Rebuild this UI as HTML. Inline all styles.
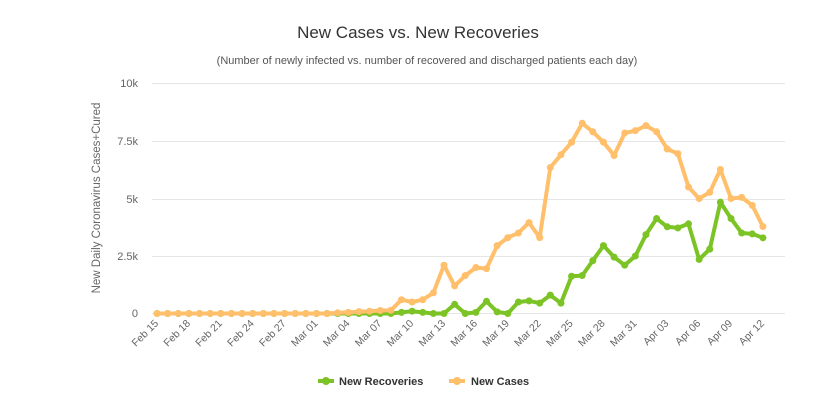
<!DOCTYPE html>
<html><head><meta charset="utf-8"><style>body{margin:0;background:#fff}svg{display:block}text{font-family:"Liberation Sans",sans-serif}</style></head><body>
<svg width="837" height="416" viewBox="0 0 837 416">
<text x="418" y="38" text-anchor="middle" font-size="17" fill="#333">New Cases vs. New Recoveries</text>
<text x="427" y="64" text-anchor="middle" font-size="11" fill="#555">(Number of newly infected vs. number of recovered and discharged patients each day)</text>
<g stroke="#e6e6e6" stroke-width="1">
<line x1="152" x2="785" y1="83.5" y2="83.5"/><line x1="152" x2="785" y1="141.5" y2="141.5"/><line x1="152" x2="785" y1="199.5" y2="199.5"/><line x1="152" x2="785" y1="256.5" y2="256.5"/><line x1="152" x2="785" y1="313.5" y2="313.5"/>
</g>
<g font-size="11" fill="#666" text-anchor="end">
<text x="138" y="87">10k</text><text x="138" y="145">7.5k</text><text x="138" y="203">5k</text><text x="138" y="260">2.5k</text><text x="138" y="317">0</text>
</g>
<text transform="translate(100,198) rotate(-90)" text-anchor="middle" font-size="11.5" fill="#666">New Daily Coronavirus Cases+Cured</text>
<g id="xl" font-size="10.5" fill="#666" text-anchor="end"></g>
<g id="lines"></g>
<g font-size="11" font-weight="bold" fill="#333">
<line x1="318" x2="334" y1="381" y2="381" stroke="#7cc426" stroke-width="4"/><circle cx="326" cy="381" r="4" fill="#7cc426"/>
<text x="339" y="385">New Recoveries</text>
<line x1="449" x2="465" y1="381" y2="381" stroke="#ffbf6b" stroke-width="4"/><circle cx="457" cy="381" r="4" fill="#ffbf6b"/>
<text x="471" y="385">New Cases</text>
</g>
</svg>
<script>
var cases=[0,0,0,0,0,0,0,0,0,0,0,0,0,0,0,0,0,0.03,0.05,0.08,0.1,0.13,0.14,0.6,0.5,0.6,0.9,2.1,1.2,1.65,2.0,1.95,2.95,3.3,3.5,3.95,3.3,6.35,6.9,7.45,8.27,7.9,7.45,6.87,7.85,7.95,8.17,7.9,7.15,6.95,5.5,5.0,5.27,6.26,5.0,5.05,4.7,3.78];
var rec=[0,0,0,0,0,0,0,0,0,0,0,0,0,0,0,0,0,0,0,0,0,0,0,0.05,0.1,0.05,0,0,0.4,0,0.05,0.53,0.07,0,0.5,0.55,0.45,0.8,0.45,1.62,1.65,2.3,2.95,2.45,2.1,2.5,3.43,4.13,3.77,3.72,3.9,2.35,2.8,4.84,4.13,3.5,3.46,3.29];
function X(i){return 157+i*10.63}function Y(v){return 313.5-v*23}
var ns="http://www.w3.org/2000/svg",g=document.getElementById('lines');
function draw(d,c){var p=d.map(function(v,i){return X(i).toFixed(1)+','+Y(v).toFixed(1)}).join(' ');
var pl=document.createElementNS(ns,'polyline');pl.setAttribute('points',p);pl.setAttribute('fill','none');pl.setAttribute('stroke',c);pl.setAttribute('stroke-width','4');pl.setAttribute('stroke-linejoin','round');g.appendChild(pl);
d.forEach(function(v,i){var ci=document.createElementNS(ns,'circle');ci.setAttribute('cx',X(i));ci.setAttribute('cy',Y(v));ci.setAttribute('r','3.5');ci.setAttribute('fill',c);g.appendChild(ci);});}
draw(rec,'#7cc426');draw(cases,'#ffbf6b');
var labs=['Feb 15','Feb 18','Feb 21','Feb 24','Feb 27','Mar 01','Mar 04','Mar 07','Mar 10','Mar 13','Mar 16','Mar 19','Mar 22','Mar 25','Mar 28','Mar 31','Apr 03','Apr 06','Apr 09','Apr 12'];
var xl=document.getElementById('xl');
labs.forEach(function(l,k){var t=document.createElementNS(ns,'text');var x=X(k*3)+2,y=324;t.setAttribute('x',x);t.setAttribute('y',y);t.setAttribute('transform','rotate(-45 '+x+' '+y+')');t.textContent=l;xl.appendChild(t);});
</script>
</body></html>
